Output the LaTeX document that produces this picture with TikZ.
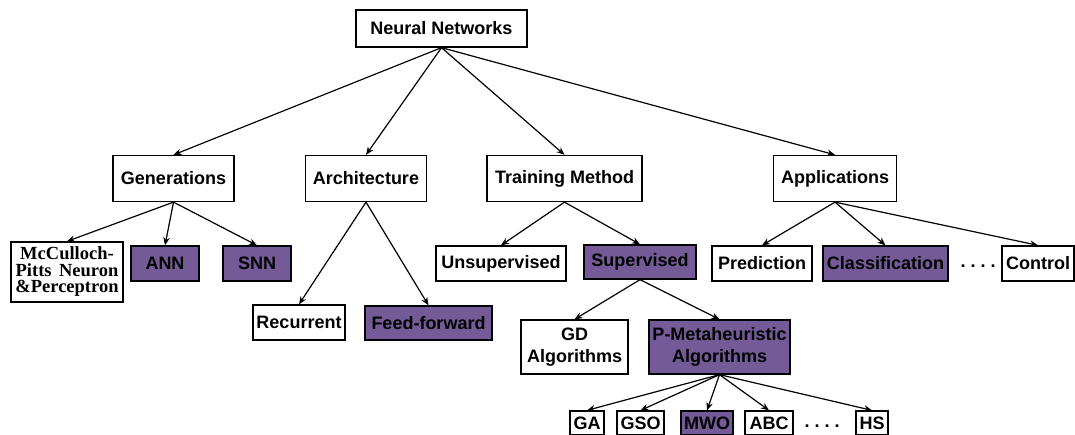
\documentclass[tikz,border=0pt]{standalone}
\usepackage{fontspec}
\setmainfont{Liberation Sans}
\newfontfamily\serifb{Liberation Serif}
\usetikzlibrary{arrows.meta}
\definecolor{nnpurple}{RGB}{116,90,150}
\begin{document}
\begin{tikzpicture}[x=1pt,y=-1pt,
  box/.style={draw=black,line width=1.3pt,fill=white,inner sep=0pt,
    font=\fontsize{18}{21.5}\selectfont\bfseries,align=center},
  pbox/.style={box,fill=nnpurple},
  dots/.style={inner sep=0pt,font=\fontsize{18}{20}\selectfont\bfseries},
  arr/.style={-{Stealth[length=8pt,width=6.5pt]},line width=1.2pt}]
\useasboundingbox (0,0) rectangle (1075,435);
% level 0
\node[box,minimum width=171pt,minimum height=37pt] (nn) at (441.5,28.5) {Neural Networks};
% level 1
\node[box,minimum width=121pt,minimum height=46pt] (gen) at (173.5,178.5) {Generations};
\node[box,minimum width=121pt,minimum height=46pt] (arch) at (366,178.5) {Architecture};
\node[box,minimum width=155pt,minimum height=46pt] (train) at (564.5,178.5) {Training Method};
\node[box,minimum width=123pt,minimum height=46pt] (app) at (835,178.5) {Applications};
% level 2
\node[box,minimum width=112pt,minimum height=60pt,
  font=\serifb\fontsize{18.5}{16.5}\selectfont\bfseries] (mcp) at (67,272) {McCulloch-\\Pitts\hspace{0.4em}Neuron\\\&Perceptron};
\node[pbox,minimum width=68pt,minimum height=35pt] (ann) at (165,263.5) {ANN};
\node[pbox,minimum width=68pt,minimum height=35pt] (snn) at (257,263.5) {SNN};
\node[box,minimum width=92pt,minimum height=35pt] (rec) at (299,322.5) {Recurrent};
\node[pbox,minimum width=127pt,minimum height=34pt] (ff) at (428.5,323) {Feed-forward};
\node[box,minimum width=130pt,minimum height=35pt] (unsup) at (501,263.5) {Unsupervised};
\node[pbox,minimum width=112pt,minimum height=34pt] (sup) at (640,262) {Supervised};
\node[box,minimum width=100pt,minimum height=35pt] (pred) at (762,263.5) {Prediction};
\node[pbox,minimum width=125pt,minimum height=35pt] (cls) at (885.5,263.5) {Classification};
\node[dots] (d1) at (978,266) {.\hspace{5pt}.\hspace{5pt}.\hspace{5pt}.};
\node[box,minimum width=72pt,minimum height=35pt] (ctrl) at (1038,263.5) {Control};
% level 3
\node[box,minimum width=107pt,minimum height=54pt] (gd) at (574.5,347) {GD\\Algorithms};
\node[pbox,minimum width=141pt,minimum height=54pt] (pm) at (719.5,347) {P-Metaheuristic\\Algorithms};
% level 4
\node[box,minimum width=34pt,minimum height=24pt] (ga) at (587,423) {GA};
\node[box,minimum width=47pt,minimum height=24pt] (gso) at (640.5,423) {GSO};
\node[pbox,minimum width=52pt,minimum height=24pt] (mwo) at (707,423) {MWO};
\node[box,minimum width=48pt,minimum height=24pt] (abc) at (769,423) {ABC};
\node[dots] (d2) at (822,426) {.\hspace{5pt}.\hspace{5pt}.\hspace{5pt}.};
\node[box,minimum width=32pt,minimum height=24pt] (hs) at (872,423) {HS};
% connectors
\foreach \c in {gen,arch,train,app} \draw[arr] (nn.south) -- (\c.north);
\foreach \c in {mcp,ann,snn} \draw[arr] (gen.south) -- (\c.north);
\foreach \c in {rec,ff} \draw[arr] (arch.south) -- (\c.north);
\foreach \c in {unsup,sup} \draw[arr] (train.south) -- (\c.north);
\foreach \c in {pred,cls,ctrl} \draw[arr] (app.south) -- (\c.north);
\foreach \c in {gd,pm} \draw[arr] (sup.south) -- (\c.north);
\foreach \c in {ga,gso,mwo,abc,hs} \draw[arr] (pm.south) -- (\c.north);
\end{tikzpicture}
\end{document}
